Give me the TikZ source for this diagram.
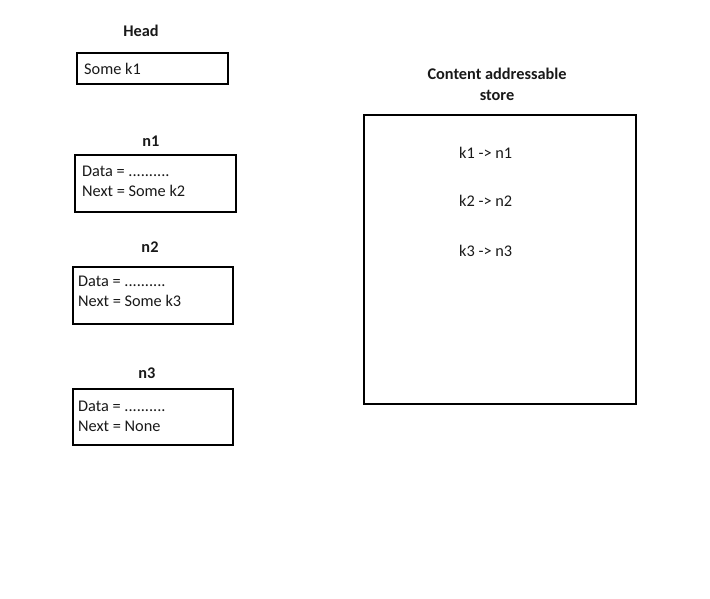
\documentclass[tikz,border=0pt]{standalone}
\usepackage{fontspec}
\setmainfont{Carlito}
\begin{document}
\begin{tikzpicture}[x=1pt,y=-1pt,
  box/.style={draw=black, line width=1.8pt, minimum width=#1, inner sep=0pt, anchor=north west},
  txt/.style={anchor=west, inner sep=0pt, font=\fontsize{16.3}{20}\selectfont, text=black!90},
  ttl/.style={anchor=center, inner sep=0pt, font=\fontsize{16.3}{20}\selectfont\bfseries, text=black!90}]
\useasboundingbox (0,0) rectangle (710,599);
% Head
\node[ttl] (headlbl) at (141,31) {Head};
\node[box=151pt, minimum height=31pt] (head) at (76,52) {};
\node[txt] (headtxt) at (84,69) {Some k1};
% n1
\node[ttl] (n1lbl) at (151,141) {n1};
\node[box=161pt, minimum height=57pt] (n1) at (74,154) {};
\node[txt] (n1a) at (82,171) {Data = ..........};
\node[txt] (n1b) at (82,191) {Next = Some k2};
% n2
\node[ttl] (n2lbl) at (150,247) {n2};
\node[box=160pt, minimum height=57pt] (n2) at (72,266) {};
\node[txt] (n2a) at (78,281) {Data = ..........};
\node[txt] (n2b) at (78,301) {Next = Some k3};
% n3
\node[ttl] (n3lbl) at (147,373) {n3};
\node[box=160pt, minimum height=56pt] (n3) at (72,388) {};
\node[txt] (n3a) at (78,406) {Data = ..........};
\node[txt] (n3b) at (78,426) {Next = None};
% store
\node[ttl] (st1) at (497,74) {Content addressable};
\node[ttl] (st2) at (497,95) {store};
\node[box=272pt, minimum height=289pt] (store) at (363,114) {};
\node[txt] (k1) at (459,153) {k1 -> n1};
\node[txt] (k2) at (459,201) {k2 -> n2};
\node[txt] (k3) at (459,251) {k3 -> n3};
\end{tikzpicture}
\end{document}
